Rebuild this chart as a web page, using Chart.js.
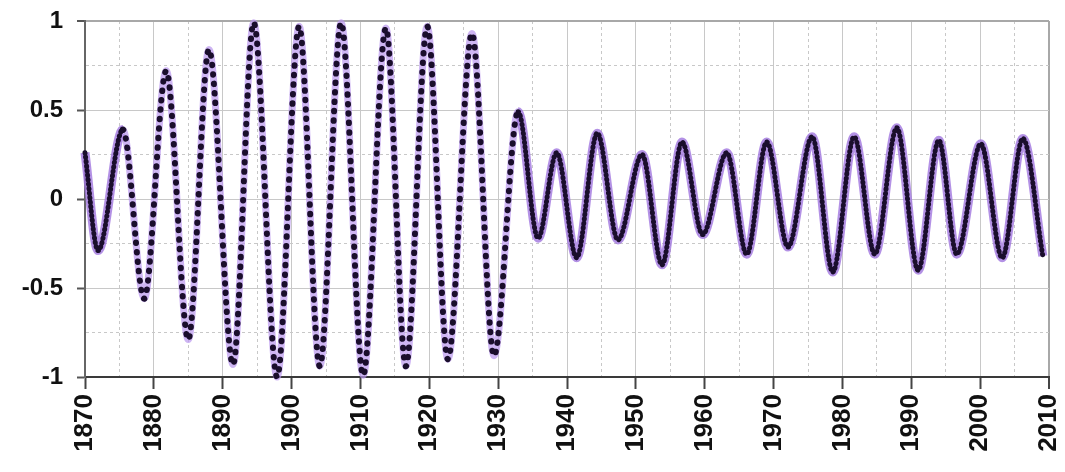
<!DOCTYPE html>
<html>
<head>
<meta charset="utf-8">
<script src="https://cdn.jsdelivr.net/npm/chart.js@4.4.1/dist/chart.umd.min.js"></script>
<style>
  body { margin: 0; background: #fff; }
  #caixa { width: 1065px; height: 472px; }
</style>
</head>
<body>
<div id="caixa"><canvas id="myChart"></canvas></div>
<script>
//entrada - picos e vales

const anos = [1870, 1871.9, 1875.5, 1878.6, 1881.8, 1885.0, 1888.0, 1891.5, 1894.5, 1897.9,
              1901.1, 1904.1, 1907.2, 1910.4, 1913.7, 1916.6, 1919.7, 1922.7, 1926.2, 1929.4,
              1932.9, 1935.8, 1938.5, 1941.4, 1944.4, 1947.4, 1950.9, 1953.8, 1956.7, 1959.7,
              1963.2, 1966.1, 1969.0, 1972.1, 1975.6, 1978.6, 1981.7, 1984.7, 1987.9, 1991.0,
              1994.0, 1996.6, 2000.1, 2003.2, 2006.2, 2009.1]
const valores = [0.26, -0.29, 0.39, -0.56, 0.72, -0.79, 0.84, -0.93, 0.99, -1.0,
                 0.97, -0.94, 0.99, -0.99, 0.96, -0.94, 0.97, -0.90, 0.93, -0.88,
                 0.49, -0.22, 0.26, -0.33, 0.37, -0.23, 0.25, -0.37, 0.32, -0.20,
                 0.26, -0.31, 0.32, -0.27, 0.35, -0.41, 0.35, -0.31, 0.40, -0.40,
                 0.33, -0.31, 0.31, -0.33, 0.34, -0.32]
const rotulos_x = ['1870', '1880', '1890', '1900', '1910', '1920', '1930', '1940',
                   '1950', '1960', '1970', '1980', '1990', '2000', '2010']
const rotulos_y = ['-1', '-0.5', '0', '0.5', '1']

const ctx = document.getElementById('myChart')

/*========================================================*/

//operações
let pontos = anos.map((a, i) => ({x: a, y: valores[i]}))

function maior_x(c){
    return c.tick && rotulos_x.includes(String(c.tick.value))
}

function maior_y(c){
    return c.tick && rotulos_y.includes(String(c.tick.value))
}

function fonte(tamanho){
    return {family: "'Liberation Sans', Arial, sans-serif", size: tamanho, weight: 'bold'}
}

// trecho de baixa amplitude depois de 1932
function tarde(c){
    return c.p0.parsed.x >= 1932 || (c.p0.parsed.x < 1872 && c.p0.parsed.x >= 1870)
}

/*========================================================*/

//saida
var grafico = new Chart(ctx, {
    type: 'line',
    data: {
        datasets: [{
            data: pontos,
            borderColor: '#1a0e2c',
            borderWidth: 6,
            borderCapStyle: 'round',
            borderDash: [0.5, 9],
            segment: {
                borderDash: c => tarde(c) ? [0.5, 4] : [0.5, 9],
                borderWidth: c => tarde(c) ? 5 : 6
            },
            pointRadius: 0,
            cubicInterpolationMode: 'monotone',
            clip: 10,
            order: 0
        }, {
            data: pontos,
            borderColor: 'rgba(185, 150, 238, 0.7)',
            borderWidth: 7,
            segment: {
                borderColor: c => tarde(c) ? 'rgba(160, 118, 222, 0.8)' : 'rgba(185, 150, 238, 0.7)',
                borderWidth: c => tarde(c) ? 9 : 7
            },
            pointRadius: 0,
            cubicInterpolationMode: 'monotone',
            clip: 10,
            order: 1
        }]
    },
    options: {
        responsive: true,
        maintainAspectRatio: false,
        animation: false,
        layout: { padding: { top: 21, right: 16, left: 0, bottom: 0 } },
        plugins: { legend: { display: false }, tooltip: { enabled: false } },
        scales: {
            x: {
                type: 'linear',
                min: 1870,
                max: 2010,
                afterFit: s => { s.height = 95; s.paddingLeft = 0; s.paddingRight = 0 },
                ticks: {
                    stepSize: 5,
                    autoSkip: false,
                    minRotation: 90,
                    maxRotation: 90,
                    padding: 5,
                    color: '#111',
                    font: fonte(26),
                    callback: v => rotulos_x.includes(String(v)) ? String(v) : ''
                },
                grid: {
                    color: c => c.tick && c.tick.value == 2010 ? '#a8a8a8' : '#c8c8c8',
                    lineWidth: c => c.tick && c.tick.value == 2010 ? 2 : 1,
                    tickLength: 12,
                    tickWidth: 2,
                    tickColor: c => maior_x(c) ? '#444' : 'rgba(0,0,0,0)'
                },
                border: {
                    color: '#3a3a3a',
                    width: 2,
                    dash: c => (c.tick && !maior_x(c)) ? [3, 3] : []
                }
            },
            y: {
                min: -1,
                max: 1,
                afterFit: s => { s.width = 85; s.paddingTop = 0; s.paddingBottom = 0 },
                ticks: {
                    stepSize: 0.25,
                    padding: 14,
                    color: '#111',
                    font: fonte(24),
                    callback: v => rotulos_y.includes(String(v)) ? String(v) : ''
                },
                grid: {
                    color: c => c.tick && c.tick.value == 1 ? '#a8a8a8' : '#c8c8c8',
                    lineWidth: c => c.tick && c.tick.value == 1 ? 2 : 1,
                    tickLength: 8,
                    tickWidth: 2,
                    tickColor: c => maior_y(c) ? '#555' : 'rgba(0,0,0,0)'
                },
                border: {
                    color: '#666',
                    width: 2,
                    dash: c => (c.tick && !maior_y(c)) ? [3, 3] : []
                }
            }
        }
    }
});
</script>
</body>
</html>
